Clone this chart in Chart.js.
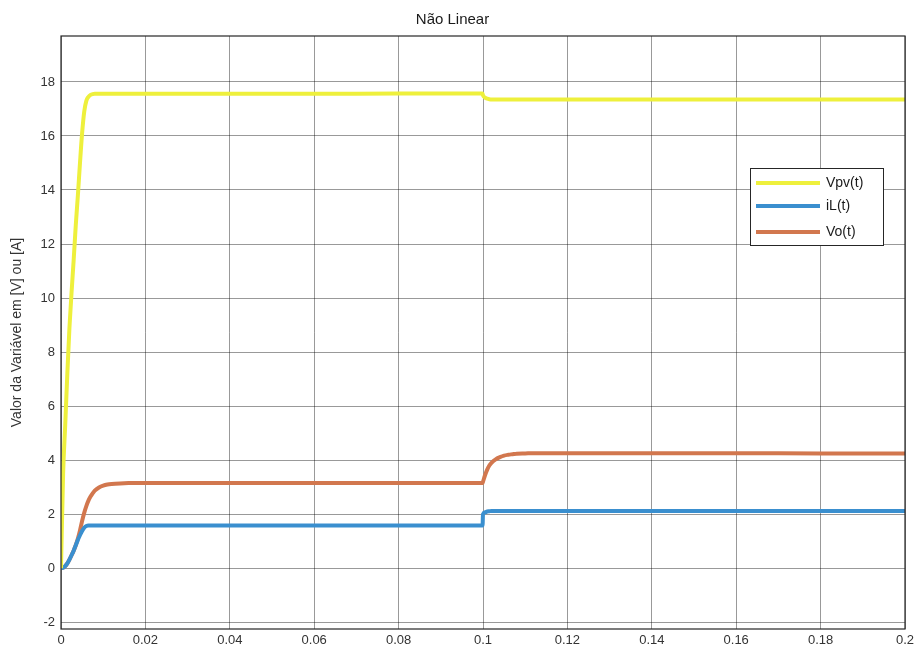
<!DOCTYPE html>
<html>
<head>
<meta charset="utf-8">
<script src="https://cdn.jsdelivr.net/npm/chart.js@4/dist/chart.umd.min.js"></script>
<style>
  html, body { margin: 0; padding: 0; background: #fff; }
  #wrap { width: 920px; height: 657px; }
</style>
</head>
<body>
<div id="wrap"><canvas id="grafico" width="920" height="657"></canvas></div>
<script>
// tempo (s)
var tempo = [0, 0.0005, 0.001, 0.0015, 0.002, 0.0025, 0.003, 0.0035, 0.004, 0.0045,
    0.005, 0.0055, 0.006, 0.0065, 0.007, 0.0075, 0.008, 0.009, 0.010, 0.011,
    0.012, 0.014, 0.016, 0.02, 0.04, 0.06, 0.08, 0.0999, 0.1, 0.1005,
    0.101, 0.1015, 0.102, 0.103, 0.104, 0.105, 0.106, 0.107, 0.108, 0.11,
    0.112, 0.115, 0.12, 0.14, 0.16, 0.18, 0.2];

var vpv = [0, 3.5, 5.3, 7.2, 8.9, 10.2, 11.4, 12.7, 13.8, 15.0,
    16.1, 16.9, 17.3, 17.45, 17.52, 17.55, 17.56, 17.56, 17.56, 17.56,
    17.56, 17.56, 17.56, 17.56, 17.56, 17.56, 17.57, 17.57, 17.5, 17.42,
    17.38, 17.36, 17.35, 17.35, 17.35, 17.35, 17.35, 17.35, 17.35, 17.35,
    17.35, 17.35, 17.35, 17.35, 17.35, 17.35, 17.35];

var iL = [0, 0.02, 0.08, 0.18, 0.32, 0.48, 0.65, 0.85, 1.05, 1.22,
    1.38, 1.5, 1.56, 1.58, 1.58, 1.58, 1.58, 1.58, 1.58, 1.58,
    1.58, 1.58, 1.58, 1.58, 1.58, 1.58, 1.58, 1.58, 2.0, 2.07,
    2.1, 2.11, 2.12, 2.12, 2.12, 2.12, 2.12, 2.12, 2.12, 2.12,
    2.12, 2.12, 2.12, 2.12, 2.12, 2.12, 2.12];

var vo = [0, 0.02, 0.08, 0.18, 0.32, 0.48, 0.65, 0.85, 1.1, 1.4,
    1.75, 2.05, 2.3, 2.5, 2.65, 2.77, 2.87, 2.99, 3.06, 3.1,
    3.12, 3.14, 3.15, 3.15, 3.15, 3.15, 3.15, 3.15, 3.2, 3.45,
    3.65, 3.8, 3.9, 4.03, 4.11, 4.17, 4.2, 4.22, 4.24, 4.25,
    4.26, 4.26, 4.26, 4.26, 4.26, 4.25, 4.25];

var ticksX = ['0', '0.02', '0.04', '0.06', '0.08', '0.1', '0.12', '0.14', '0.16', '0.18', '0.2'];
var ticksY = ['-2', '0', '2', '4', '6', '8', '10', '12', '14', '16', '18'];

var nomes = ['Vpv(t)', 'iL(t)', 'Vo(t)'];
var cores = ['#eef03c', '#3a8fcf', '#d2774e'];

function pontos(valores) {
    return tempo.map(function (t, i) { return { x: t, y: valores[i] }; });
}

// legenda dentro do gráfico, estilo MATLAB
var legendaInterna = {
    id: 'legendaInterna',
    afterDraw: function (chart) {
        var ctx = chart.ctx;
        var x0 = 750, y0 = 168, w = 133, h = 77;
        ctx.save();
        ctx.fillStyle = '#fff';
        ctx.fillRect(x0, y0, w, h);
        ctx.strokeStyle = '#262626';
        ctx.lineWidth = 1;
        ctx.strokeRect(x0 + 0.5, y0 + 0.5, w, h);
        ctx.font = '14px "Liberation Sans", Arial, sans-serif';
        ctx.textBaseline = 'middle';
        var linhas = [183, 206, 232];
        for (var i = 0; i < nomes.length; i++) {
            ctx.strokeStyle = cores[i];
            ctx.lineWidth = 4;
            ctx.beginPath();
            ctx.moveTo(756, linhas[i]);
            ctx.lineTo(820, linhas[i]);
            ctx.stroke();
            ctx.fillStyle = '#1a1a1a';
            ctx.fillText(nomes[i], 826, linhas[i]);
        }
        ctx.restore();
    }
};

// moldura da área do gráfico
var moldura = {
    id: 'moldura',
    afterDatasetsDraw: function (chart) {
        var a = chart.chartArea;
        var ctx = chart.ctx;
        ctx.save();
        ctx.strokeStyle = '#262626';
        ctx.lineWidth = 1.2;
        ctx.strokeRect(a.left, a.top, a.right - a.left, a.bottom - a.top);
        ctx.restore();
    }
};

var ctx = document.getElementById('grafico').getContext('2d');
new Chart(ctx, {
    type: 'line',
    data: {
        datasets: [
            { label: nomes[0], data: pontos(vpv), borderColor: cores[0], borderWidth: 4, pointRadius: 0, cubicInterpolationMode: 'monotone' },
            { label: nomes[1], data: pontos(iL), borderColor: cores[1], borderWidth: 4, pointRadius: 0, cubicInterpolationMode: 'monotone' },
            { label: nomes[2], data: pontos(vo), borderColor: cores[2], borderWidth: 4, pointRadius: 0, cubicInterpolationMode: 'monotone' }
        ]
    },
    options: {
        responsive: false,
        animation: false,
        layout: { padding: { left: 0, right: 15, top: 0, bottom: 0 } },
        plugins: {
            legend: { display: false },
            tooltip: { enabled: false },
            title: {
                display: true,
                text: 'Não Linear',
                color: '#1a1a1a',
                font: { family: '"Liberation Sans", Arial, sans-serif', size: 15, weight: 'normal', lineHeight: 1.2 },
                padding: { top: 11, bottom: 7 }
            }
        },
        scales: {
            x: {
                type: 'linear',
                min: 0,
                max: 0.2,
                afterBuildTicks: function (scale) {
                    scale.ticks = ticksX.map(function (s) { return { value: parseFloat(s) }; });
                },
                afterFit: function (scale) { scale.height = 28; },
                ticks: {
                    color: '#333',
                    font: { family: '"Liberation Sans", Arial, sans-serif', size: 13 },
                    padding: 4,
                    maxRotation: 0,
                    callback: function (v, i) { return ticksX[i]; }
                },
                grid: { color: 'rgba(0,0,0,0.4)', lineWidth: 1, drawTicks: false },
                border: { display: false }
            },
            y: {
                min: -2.25,
                max: 19.7,
                afterBuildTicks: function (scale) {
                    scale.ticks = ticksY.map(function (s) { return { value: parseFloat(s) }; });
                },
                afterFit: function (scale) { scale.width = 61; },
                title: {
                    display: true,
                    text: 'Valor da Variável em [V] ou [A]',
                    color: '#333',
                    font: { family: '"Liberation Sans", Arial, sans-serif', size: 14 },
                    padding: { top: 9, bottom: 4 }
                },
                ticks: {
                    color: '#333',
                    font: { family: '"Liberation Sans", Arial, sans-serif', size: 13 },
                    padding: 6,
                    callback: function (v, i) { return ticksY[i]; }
                },
                grid: { color: 'rgba(0,0,0,0.4)', lineWidth: 1, drawTicks: false },
                border: { display: false }
            }
        }
    },
    plugins: [moldura, legendaInterna]
});
</script>
</body>
</html>
